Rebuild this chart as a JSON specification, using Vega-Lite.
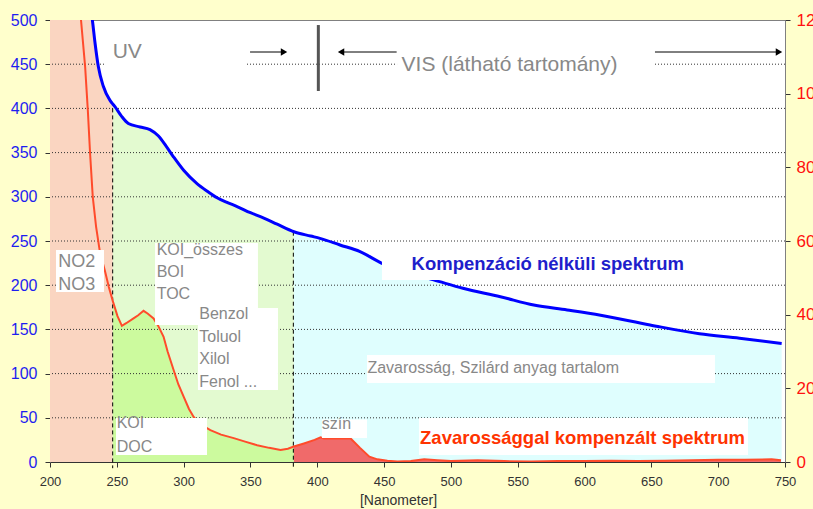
{
  "$schema": "https://vega.github.io/schema/vega-lite/v6.json",
  "width": 735,
  "height": 442,
  "autosize": {"type": "none"},
  "padding": {"left": 50, "top": 20, "right": 28, "bottom": 47},
  "background": "#FFFFCC",
  "config": {
    "view": {"fill": "white", "stroke": "#808080", "strokeWidth": 1},
    "font": "Liberation Sans",
    "text": {"font": "Liberation Sans"}
  },
  "datasets": {
    "blue": [
      {"nm": 200, "v": 900}, {"nm": 215, "v": 640}, {"nm": 225, "v": 548}, {"nm": 231.7, "v": 500},
      {"nm": 233.7, "v": 474}, {"nm": 236.2, "v": 447}, {"nm": 239.9, "v": 425}, {"nm": 244.9, "v": 409},
      {"nm": 247, "v": 405}, {"nm": 248.6, "v": 402}, {"nm": 253.6, "v": 391}, {"nm": 258.6, "v": 383},
      {"nm": 267.4, "v": 379}, {"nm": 274.8, "v": 376}, {"nm": 281, "v": 369}, {"nm": 287, "v": 357},
      {"nm": 292.5, "v": 345}, {"nm": 300, "v": 330}, {"nm": 310, "v": 315}, {"nm": 318, "v": 306},
      {"nm": 325, "v": 299}, {"nm": 332, "v": 294}, {"nm": 340, "v": 289}, {"nm": 350, "v": 282},
      {"nm": 360, "v": 276}, {"nm": 370, "v": 269}, {"nm": 382.5, "v": 260.5}, {"nm": 395, "v": 255.6},
      {"nm": 402, "v": 253}, {"nm": 417, "v": 245.5}, {"nm": 432, "v": 238}, {"nm": 448, "v": 225},
      {"nm": 465, "v": 215}, {"nm": 487, "v": 206}, {"nm": 509, "v": 196.5}, {"nm": 537, "v": 187},
      {"nm": 562, "v": 177.6}, {"nm": 587, "v": 172}, {"nm": 612, "v": 166}, {"nm": 649, "v": 155},
      {"nm": 686, "v": 145}, {"nm": 716, "v": 140}, {"nm": 747.5, "v": 134}
    ],
    "red": [
      {"nm": 200, "v": 1500}, {"nm": 215, "v": 720}, {"nm": 220, "v": 590}, {"nm": 223.2, "v": 500},
      {"nm": 226.3, "v": 447}, {"nm": 228.3, "v": 398}, {"nm": 230, "v": 349}, {"nm": 232, "v": 300},
      {"nm": 234.5, "v": 266}, {"nm": 237.5, "v": 236}, {"nm": 241, "v": 217}, {"nm": 244, "v": 198},
      {"nm": 247, "v": 182}, {"nm": 250.5, "v": 165}, {"nm": 253.8, "v": 154}, {"nm": 257, "v": 157},
      {"nm": 262.5, "v": 162.5}, {"nm": 266, "v": 166}, {"nm": 270, "v": 171}, {"nm": 273, "v": 168},
      {"nm": 277.5, "v": 162.5}, {"nm": 281, "v": 154}, {"nm": 285, "v": 141.7}, {"nm": 288, "v": 125},
      {"nm": 292.5, "v": 104}, {"nm": 296, "v": 88}, {"nm": 300, "v": 74}, {"nm": 304, "v": 60},
      {"nm": 307.5, "v": 51}, {"nm": 312, "v": 43}, {"nm": 320, "v": 36}, {"nm": 328, "v": 31},
      {"nm": 337.5, "v": 27}, {"nm": 346, "v": 23}, {"nm": 355, "v": 19}, {"nm": 364, "v": 16},
      {"nm": 372.5, "v": 13.6}, {"nm": 378, "v": 15}, {"nm": 382.5, "v": 17.5}, {"nm": 390, "v": 21},
      {"nm": 398, "v": 25}, {"nm": 402.5, "v": 28}, {"nm": 405, "v": 26.5}, {"nm": 425, "v": 26.5},
      {"nm": 432, "v": 16}, {"nm": 439, "v": 6}, {"nm": 445, "v": 3}, {"nm": 452.5, "v": 1.5},
      {"nm": 460, "v": 0.5}, {"nm": 470, "v": 1}, {"nm": 480, "v": 3}, {"nm": 490, "v": 2},
      {"nm": 500, "v": 1}, {"nm": 520, "v": 2}, {"nm": 540, "v": 1}, {"nm": 560, "v": 0.5},
      {"nm": 580, "v": 1}, {"nm": 600, "v": 1}, {"nm": 620, "v": 1.5}, {"nm": 640, "v": 1},
      {"nm": 660, "v": 1.5}, {"nm": 680, "v": 2}, {"nm": 700, "v": 2.5}, {"nm": 720, "v": 2.5},
      {"nm": 740, "v": 3}, {"nm": 747, "v": 2}
    ],
    "grid": [{"v": 50}, {"v": 100}, {"v": 150}, {"v": 200}, {"v": 250}, {"v": 300}, {"v": 350}, {"v": 400}, {"v": 450}],
    "vlines": [{"nm": 246.9, "v": 400, "v2": -7}, {"nm": 382.1, "v": 260.5, "v2": -7}],
    "boxes": [
      {"nm": 241, "nm2": 347.2, "v": 432, "v2": 490},
      {"nm": 459.7, "nm2": 652.7, "v": 430, "v2": 490},
      {"nm": 204.5, "nm2": 240.4, "v": 239.8, "v2": 192.3},
      {"nm": 278.6, "nm2": 355.6, "v": 247.7, "v2": 155},
      {"nm": 310.7, "nm2": 370.6, "v": 174.2, "v2": 81.4},
      {"nm": 249.4, "nm2": 317.5, "v": 49.8, "v2": 7.9},
      {"nm": 437.2, "nm2": 697.6, "v": 121, "v2": 89.4},
      {"nm": 403.5, "nm2": 437.2, "v": 48, "v2": 27.1},
      {"nm": 476.1, "nm2": 722.3, "v": 49.8, "v2": 7.9},
      {"nm": 448.4, "nm2": 682.6, "v": 234.2, "v2": 205.9}
    ],
    "labels": [
      {"nm": 246.9, "v": 464, "label": "UV", "grp": "big"},
      {"nm": 463.1, "v": 449, "label": "VIS (látható tartomány)", "grp": "big"},
      {"nm": 206.2, "v": 226.6, "label": "NO2", "grp": "g18"},
      {"nm": 206.2, "v": 200, "label": "NO3", "grp": "g18"},
      {"nm": 279.8, "v": 239.8, "label": "KOI_összes", "grp": "g16"},
      {"nm": 279.8, "v": 214.6, "label": "BOI", "grp": "g16"},
      {"nm": 279.8, "v": 189.7, "label": "TOC", "grp": "g16"},
      {"nm": 311.7, "v": 167, "label": "Benzol", "grp": "g16"},
      {"nm": 311.7, "v": 141.7, "label": "Toluol", "grp": "g16"},
      {"nm": 311.7, "v": 116.5, "label": "Xilol", "grp": "g16"},
      {"nm": 311.7, "v": 90.8, "label": "Fenol ...", "grp": "g16"},
      {"nm": 249.9, "v": 43.8, "label": "KOI", "grp": "g16"},
      {"nm": 249.9, "v": 17.3, "label": "DOC", "grp": "g16"},
      {"nm": 403.3, "v": 43, "label": "szín", "grp": "g16"},
      {"nm": 437.5, "v": 106, "label": "Zavarosság, Szilárd anyag tartalom", "grp": "g16"},
      {"nm": 470.6, "v": 224, "label": "Kompenzáció nélküli spektrum", "grp": "blue"},
      {"nm": 476.9, "v": 27, "label": "Zavarossággal kompenzált spektrum", "grp": "red"}
    ],
    "arrows": [
      {"nm": 349.7, "nm2": 375.1, "v": 463.8},
      {"nm": 417.8, "nm2": 459.4, "v": 463.8},
      {"nm": 652.7, "nm2": 745.5, "v": 463.8}
    ],
    "heads": [
      {"nm": 375.1, "v": 463.8, "dir": "triangle-right"},
      {"nm": 417.8, "v": 463.8, "dir": "triangle-left"},
      {"nm": 745.5, "v": 463.8, "dir": "triangle-right"}
    ],
    "bar": [{"nm": 400.8, "v": 494.3, "v2": 419.7}]
  },
  "resolve": {"scale": {"y": "independent"}},
  "layer": [
    {
      "layer": [
        {
          "data": {"name": "blue"},
          "transform": [{"filter": "datum.nm <= 247"}],
          "mark": {"type": "area", "color": "#FAD5C1", "clip": true, "interpolate": "monotone"},
          "encoding": {
            "x": {"field": "nm", "type": "quantitative", "scale": {"domain": [200, 750], "nice": false, "zero": false},
              "axis": {"values": [200, 250, 300, 350, 400, 450, 500, 550, 600, 650, 700, 750], "title": "[Nanometer]", "titleFontSize": 14, "titleFontWeight": "normal", "titleColor": "#333333", "titleFont": "Liberation Sans", "titleX": 348, "titleY": 38, "titleBaseline": "middle", "titleAnchor": null, "labelFontSize": 13, "labelColor": "#333333", "labelFont": "Liberation Sans", "labelFlush": false, "labelPadding": 8, "tickSize": 5, "tickColor": "#333333", "domainColor": "#333333", "grid": false, "labelOverlap": false}},
            "y": {"field": "v", "type": "quantitative", "scale": {"domain": [0, 500], "nice": false, "zero": false},
              "axis": {"values": [0, 50, 100, 150, 200, 250, 300, 350, 400, 450, 500], "title": null, "labelFontSize": 16, "labelColor": "#1E1EF0", "labelFont": "Liberation Sans", "labelPadding": 8, "tickSize": 5, "tickColor": "#333333", "domainColor": "#808080", "grid": false, "labelOverlap": false}}
          }
        },
        {
          "data": {"name": "blue"},
          "transform": [{"filter": "datum.nm >= 247 && datum.nm <= 382.5"}],
          "mark": {"type": "area", "color": "#E3FAD0", "clip": true, "interpolate": "monotone"},
          "encoding": {"x": {"field": "nm", "type": "quantitative"}, "y": {"field": "v", "type": "quantitative"}}
        },
        {
          "data": {"name": "blue"},
          "transform": [{"filter": "datum.nm >= 382.5"}],
          "mark": {"type": "area", "color": "#DFFEFE", "clip": true, "interpolate": "monotone"},
          "encoding": {"x": {"field": "nm", "type": "quantitative"}, "y": {"field": "v", "type": "quantitative"}}
        },
        {
          "data": {"name": "red"},
          "transform": [{"filter": "datum.nm >= 247 && datum.nm <= 382.5"}],
          "mark": {"type": "area", "color": "#CCFA9E", "clip": true},
          "encoding": {"x": {"field": "nm", "type": "quantitative"}, "y": {"field": "v", "type": "quantitative"}}
        },
        {
          "data": {"name": "red"},
          "transform": [{"filter": "datum.nm >= 382.5"}],
          "mark": {"type": "area", "color": "#F06A6A", "clip": true},
          "encoding": {"x": {"field": "nm", "type": "quantitative"}, "y": {"field": "v", "type": "quantitative"}}
        },
        {
          "data": {"name": "grid"},
          "mark": {"type": "rule", "color": "#333333", "strokeDash": [1, 2], "strokeWidth": 1},
          "encoding": {"y": {"field": "v", "type": "quantitative"}}
        },
        {
          "data": {"name": "vlines"},
          "mark": {"type": "rule", "color": "#000000", "strokeDash": [4, 3], "strokeWidth": 1},
          "encoding": {"x": {"field": "nm", "type": "quantitative"}, "y": {"field": "v", "type": "quantitative"}, "y2": {"field": "v2"}}
        },
        {
          "data": {"name": "red"},
          "mark": {"type": "line", "color": "#FF4B2B", "strokeWidth": 2, "clip": true},
          "encoding": {"x": {"field": "nm", "type": "quantitative"}, "y": {"field": "v", "type": "quantitative"}}
        },
        {
          "data": {"name": "blue"},
          "mark": {"type": "line", "color": "#0000FF", "strokeWidth": 3, "clip": true, "interpolate": "monotone"},
          "encoding": {"x": {"field": "nm", "type": "quantitative"}, "y": {"field": "v", "type": "quantitative"}}
        },
        {
          "data": {"name": "boxes"},
          "mark": {"type": "rect", "color": "#FFFFFF"},
          "encoding": {"x": {"field": "nm", "type": "quantitative"}, "x2": {"field": "nm2"}, "y": {"field": "v", "type": "quantitative"}, "y2": {"field": "v2"}}
        },
        {
          "data": {"name": "arrows"},
          "mark": {"type": "rule", "color": "#000000", "strokeWidth": 1},
          "encoding": {"x": {"field": "nm", "type": "quantitative"}, "x2": {"field": "nm2"}, "y": {"field": "v", "type": "quantitative"}}
        },
        {
          "data": {"name": "heads"},
          "mark": {"type": "point", "filled": true, "color": "#000000", "size": 55, "opacity": 1},
          "encoding": {"x": {"field": "nm", "type": "quantitative"}, "y": {"field": "v", "type": "quantitative"}, "shape": {"field": "dir", "type": "nominal", "scale": null}}
        },
        {
          "data": {"name": "bar"},
          "mark": {"type": "rule", "color": "#555555", "strokeWidth": 3},
          "encoding": {"x": {"field": "nm", "type": "quantitative"}, "y": {"field": "v", "type": "quantitative"}, "y2": {"field": "v2"}}
        },
        {
          "data": {"name": "labels"},
          "transform": [{"filter": "datum.grp === 'big'"}],
          "mark": {"type": "text", "align": "left", "baseline": "middle", "fontSize": 21, "color": "#888888"},
          "encoding": {"x": {"field": "nm", "type": "quantitative"}, "y": {"field": "v", "type": "quantitative"}, "text": {"field": "label"}}
        },
        {
          "data": {"name": "labels"},
          "transform": [{"filter": "datum.grp === 'g18'"}],
          "mark": {"type": "text", "align": "left", "baseline": "middle", "fontSize": 18, "color": "#888888"},
          "encoding": {"x": {"field": "nm", "type": "quantitative"}, "y": {"field": "v", "type": "quantitative"}, "text": {"field": "label"}}
        },
        {
          "data": {"name": "labels"},
          "transform": [{"filter": "datum.grp === 'g16'"}],
          "mark": {"type": "text", "align": "left", "baseline": "middle", "fontSize": 16, "color": "#888888"},
          "encoding": {"x": {"field": "nm", "type": "quantitative"}, "y": {"field": "v", "type": "quantitative"}, "text": {"field": "label"}}
        },
        {
          "data": {"name": "labels"},
          "transform": [{"filter": "datum.grp === 'blue'"}],
          "mark": {"type": "text", "align": "left", "baseline": "middle", "fontSize": 18.5, "fontWeight": "bold", "color": "#1E1ECB"},
          "encoding": {"x": {"field": "nm", "type": "quantitative"}, "y": {"field": "v", "type": "quantitative"}, "text": {"field": "label"}}
        },
        {
          "data": {"name": "labels"},
          "transform": [{"filter": "datum.grp === 'red'"}],
          "mark": {"type": "text", "align": "left", "baseline": "middle", "fontSize": 18.5, "fontWeight": "bold", "color": "#FF3300"},
          "encoding": {"x": {"field": "nm", "type": "quantitative"}, "y": {"field": "v", "type": "quantitative"}, "text": {"field": "label"}}
        }
      ]
    },
    {
      "data": {"values": [{"r": 0}, {"r": 120}]},
      "mark": {"type": "point", "opacity": 0},
      "encoding": {
        "y": {"field": "r", "type": "quantitative", "scale": {"domain": [0, 120], "nice": false},
          "axis": {"orient": "right", "values": [0, 20, 40, 60, 80, 100, 120], "title": null, "labelFontSize": 17, "labelColor": "#FF1010", "labelFont": "Liberation Sans", "labelPadding": 6, "tickSize": 5, "tickColor": "#333333", "domainColor": "#808080", "grid": false, "labelOverlap": false}}
      }
    }
  ]
}
